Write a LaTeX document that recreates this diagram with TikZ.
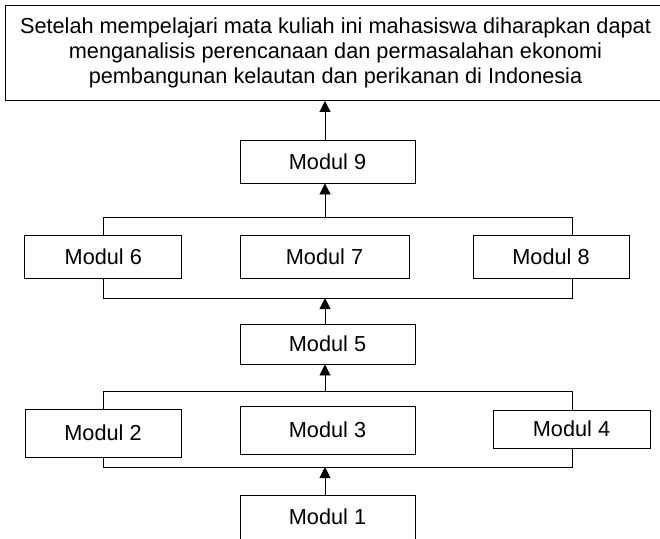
\documentclass[tikz,border=0pt]{standalone}
\usepackage{fontspec}
\setmainfont{Liberation Sans}
\usetikzlibrary{arrows.meta}
\tikzset{
  modbox/.style={draw, line width=0.9pt, fill=white, inner sep=0pt, font=\fontsize{21.7}{24.7}\selectfont},
  bracketline/.style={line width=0.9pt},
  arr/.style={line width=0.9pt, -{Triangle[width=11pt,length=11pt]}}
}
\begin{document}
\begin{tikzpicture}[x=1pt,y=-1pt]
\clip (0,0) rectangle (660,538);
\fill[white] (0,0) rectangle (660,538);
% bracket corners
\coordinate (b1tl) at (103,217);
\coordinate (b1br) at (572,298);
\coordinate (b2tl) at (103,391);
\coordinate (b2br) at (572,467);
\coordinate (ax) at (325,0);
\draw[bracketline] (b1tl) rectangle (b1br);
\draw[bracketline] (b2tl) rectangle (b2br);
% nodes
\node[modbox, minimum width=661, minimum height=95, align=center] (goal) at (335.5,53)
  {Setelah mempelajari mata kuliah ini mahasiswa diharapkan dapat\\
   menganalisis perencanaan dan permasalahan ekonomi\\
   pembangunan kelautan dan perikanan di Indonesia};
\node[modbox, minimum width=175, minimum height=43] (m9) at (327.5,161.5) {Modul 9};
\node[modbox, minimum width=157, minimum height=43] (m6) at (103.3,256.5) {Modul 6};
\node[modbox, minimum width=169, minimum height=43] (m7) at (324.5,256.5) {Modul 7};
\node[modbox, minimum width=156, minimum height=43] (m8) at (551,256.5) {Modul 8};
\node[modbox, minimum width=175, minimum height=40] (m5) at (327.5,344) {Modul 5};
\node[modbox, minimum width=156, minimum height=48] (m2) at (103,433) {Modul 2};
\node[modbox, minimum width=175, minimum height=48] (m3) at (327.5,430) {Modul 3};
\node[modbox, minimum width=157, minimum height=38] (m4) at (571.5,429) {Modul 4};
\node[modbox, minimum width=175, minimum height=44] (m1) at (327.5,517) {Modul 1};
% arrows
\draw[arr] (m9.north -| ax) -- (goal.south -| ax);
\draw[arr] (b1tl -| ax) -- (m9.south -| ax);
\draw[arr] (m5.north -| ax) -- (b1br -| ax);
\draw[arr] (b2tl -| ax) -- (m5.south -| ax);
\draw[arr] (m1.north -| ax) -- (b2br -| ax);
\end{tikzpicture}
\end{document}
